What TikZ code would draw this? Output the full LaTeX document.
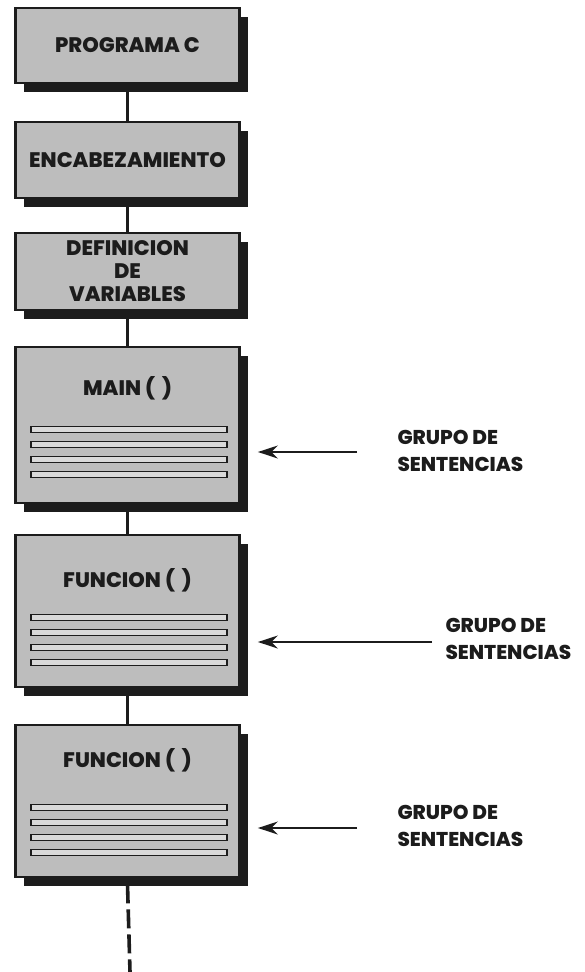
\documentclass[tikz,border=0pt]{standalone}
\usepackage{fontspec}
\setmainfont{Poppins}
\newfontfamily\gruesa{Poppins ExtraBold}
\usetikzlibrary{arrows.meta,positioning,calc,shadows,backgrounds}
\definecolor{Tinta}{HTML}{1C1C1C}
\definecolor{Cara}{HTML}{BDBDBD}
\definecolor{Raya}{HTML}{D9D9D9}

\tikzset{
  caja/.style={draw=Tinta, line width=2.8pt, fill=Cara, minimum width=224pt, inner sep=0pt,
    drop shadow={shadow xshift=8pt, shadow yshift=-9pt, fill=Tinta, opacity=1}},
  rotulo/.style={font=\fontsize{21}{23}\selectfont\gruesa, text=Tinta, align=center},
  nota/.style={font=\fontsize{20}{27}\selectfont\gruesa, text=Tinta, align=left, anchor=west},
  linea/.style={draw=Tinta, line width=2.6pt},
  flecha/.style={draw=Tinta, line width=2pt, -{Stealth[length=20pt,width=13pt]}},
  raya/.style={draw=Tinta, line width=1.5pt, fill=Raya},
}

\begin{document}
\begin{tikzpicture}[x=1pt,y=-1pt]
  \useasboundingbox (0,0) rectangle (584,972);
  % bloques del programa
  \node[caja, rotulo, minimum height=75pt] (prog) at (127.5,45.5) {PROGRAMA C};
  \node[caja, rotulo, minimum height=76pt] (enca) at (127.5,160) {ENCABEZAMIENTO};
  \node[caja, rotulo, minimum height=77pt] (defi) at (127.5,271.5) {DEFINICION\\DE\\VARIABLES};
  \node[caja, minimum height=156pt] (main) at (127.5,425) {};
  \node[caja, minimum height=152pt] (func) at (127.5,611) {};
  \node[caja, minimum height=152pt] (funcb) at (127.5,801) {};
  \node[rotulo] (tmain) at ($(main.north)+(0,43)$) {MAIN (\,\,)};
  \node[rotulo] (tfunc) at ($(func.north)+(0,47)$) {FUNCION (\,\,)};
  \node[rotulo] (tfuncb) at ($(funcb.north)+(0,37)$) {FUNCION (\,\,)};
  % sentencias
  \foreach \b in {main,func,funcb}{
    \foreach \dy in {81,96,111,126}
      \draw[raya] ($(\b.north west)+(17,\dy)$) rectangle ++(196,6);
  }
  % uniones
  \coordinate (fin) at (130,972);
  \begin{scope}[on background layer]
    \draw[linea] (prog) -- (enca);
    \draw[linea] (enca) -- (defi);
    \draw[linea] (defi) -- (main);
    \draw[linea] (main) -- (func);
    \draw[linea] (func) -- (funcb);
    \draw[linea, line width=3.6pt, dash pattern=on 19pt off 6pt] ($(funcb.south)+(0,6)$) -- (fin);
  \end{scope}
  % notas
  \node[nota] (g1) at (394,451) {GRUPO DE\\SENTENCIAS};
  \node[nota] (g2) at (442,639) {GRUPO DE\\SENTENCIAS};
  \node[nota] (g3) at (394,826) {GRUPO DE\\SENTENCIAS};
  \coordinate (s1) at (357,452);
  \coordinate (s2) at (432,642);
  \coordinate (s3) at (357,828);
  \draw[flecha, shorten >=17pt] (s1) -- (main.east |- s1);
  \draw[flecha, shorten >=17pt] (s2) -- (func.east |- s2);
  \draw[flecha, shorten >=17pt] (s3) -- (funcb.east |- s3);
\end{tikzpicture}
\end{document}
